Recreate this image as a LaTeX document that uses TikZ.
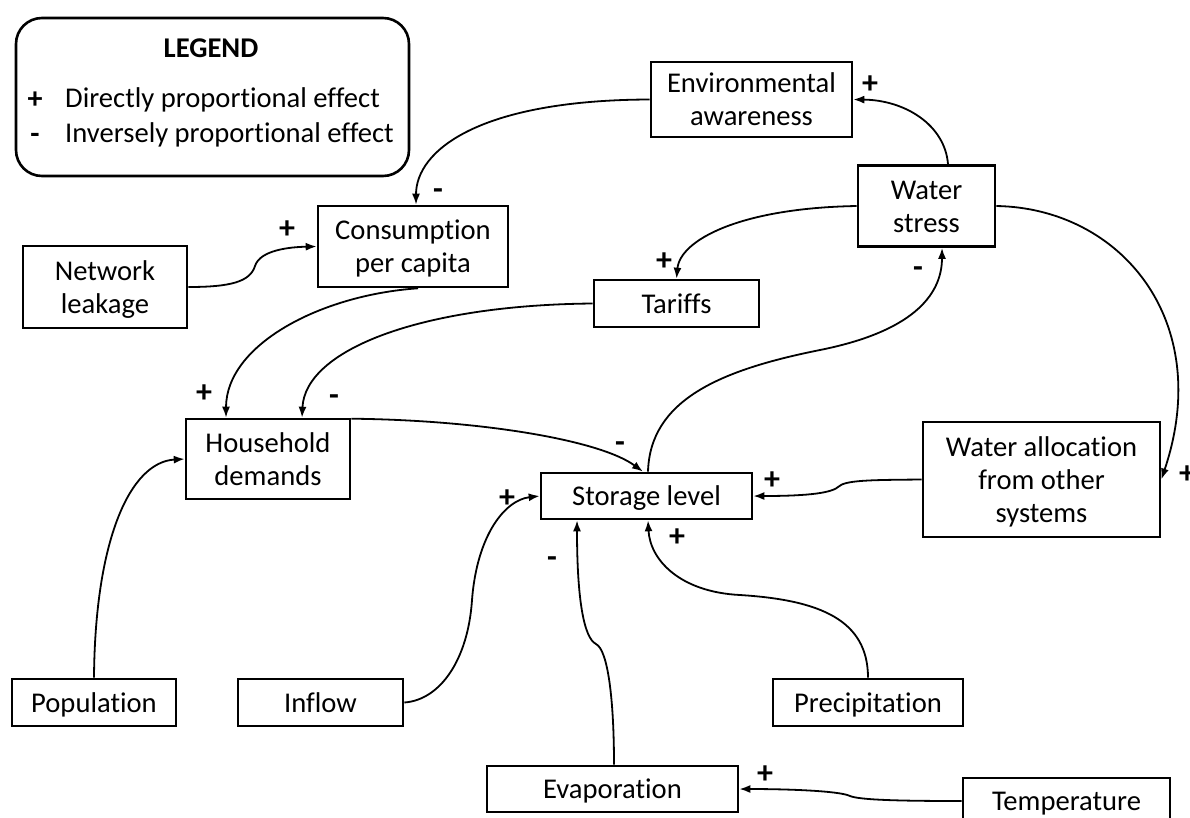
\documentclass[tikz,border=0pt]{standalone}
\usepackage{fontspec}
\setmainfont{Carlito}[Ligatures={NoCommon}]
\usetikzlibrary{arrows.meta}
\newcommand{\nodetext}[1]{\rule{0pt}{25pt}#1\rule[-6pt]{0pt}{0pt}}
\begin{document}
\begin{tikzpicture}[x=1pt,y=-1pt,
  box/.style={draw, line width=2.6pt, inner sep=0pt, align=center, font=\fontsize{28.6}{33}\selectfont},
  conn/.style={line width=1.8pt, -{Latex[length=11pt,width=8pt]}},
  sgn/.style={font=\fontsize{32}{33}\selectfont\bfseries, inner sep=0pt, anchor=base},
  legsgn/.style={font=\fontsize{30}{33}\selectfont\bfseries, inner sep=0pt, anchor=base},
  legtitle/.style={font=\fontsize{28.6}{33}\selectfont\bfseries, inner sep=0pt, anchor=base},
  legtext/.style={font=\fontsize{28.6}{33}\selectfont, inner sep=0pt, anchor=base west}]
\useasboundingbox (0,0) rectangle (1190,817);

% legend
\node[draw, line width=2.6pt, rounded corners=26pt, minimum width=393pt, minimum height=158pt, inner sep=0pt] (legend) at (212.5,97) {};
\node[legtitle] (legtitle) at (211,57) {LEGEND};
\node[legsgn] (legplus) at (35,108) {+};
\node[legtext] (legdirect) at (65,107) {Directly proportional effect};
\node[legsgn] (legminus) at (35,143) {-};
\node[legtext] (leginverse) at (65,142) {Inversely proportional effect};

% nodes
\node[box, minimum width=201pt, minimum height=75pt] (ea) at (751.5,99.5) {\nodetext{Environmental\\awareness}};
\node[box, minimum width=137pt, minimum height=81pt] (ws) at (926.5,206) {\nodetext{Water\\stress}};
\node[box, minimum width=165pt, minimum height=47pt] (tar) at (676.5,303.5) {\nodetext{Tariffs}};
\node[box, minimum width=190pt, minimum height=81pt] (cons) at (413,246.5) {\nodetext{Consumption\\per capita}};
\node[box, minimum width=164pt, minimum height=82pt] (nl) at (105,287) {\nodetext{Network\\leakage}};
\node[box, minimum width=164pt, minimum height=80pt] (hd) at (268,459) {\nodetext{Household\\demands}};
\node[box, minimum width=211pt, minimum height=46pt] (sl) at (646.5,496) {\nodetext{Storage level}};
\node[box, minimum width=237pt, minimum height=115pt] (wa) at (1041.5,479.5) {\nodetext{Water allocation\\from other\\systems}};
\node[box, minimum width=164pt, minimum height=47pt] (pop) at (94,702.5) {\nodetext{Population}};
\node[box, minimum width=165pt, minimum height=47pt] (inf) at (320.5,702.5) {\nodetext{Inflow}};
\node[box, minimum width=190pt, minimum height=47pt] (pre) at (868,702.5) {\nodetext{Precipitation}};
\node[box, minimum width=251pt, minimum height=46pt] (eva) at (612.5,789) {\nodetext{Evaporation}};
\node[box, minimum width=207pt, minimum height=46pt] (tem) at (1066.5,801) {\nodetext{Temperature}};

% connectors
\draw[conn] (ea.west) .. controls (480,100) and (416,150) .. ([xshift=3pt]cons.north);
\draw[conn] ([xshift=21.5pt]ws.north) .. controls (945,125) and (905,100) .. (ea.east);
\draw[conn] (ws.west) .. controls (740,208) and (680,240) .. (tar.north);
\draw[conn] (ws.east) .. controls (1120,208) and (1215,320) .. (wa.east);
\draw[conn] (nl.east) .. controls (230,287) and (250,282) .. (255,266) .. controls (260,250) and (290,247) .. (cons.west);
\draw[conn] ([xshift=5pt]cons.south) .. controls (320,295) and (226,345) .. ([xshift=-42pt]hd.north);
\draw[conn] (tar.west) .. controls (420,305) and (305,350) .. ([xshift=34pt]hd.north);
\draw[conn] ([yshift=-1pt]hd.north east) .. controls (480,420) and (600,440) .. ([xshift=-3.5pt]sl.north);
\draw[conn] ([xshift=1.5pt]sl.north) .. controls (650,400) and (720,370) .. (820,350) .. controls (920,330) and (942,290) .. ([xshift=15.5pt]ws.south);
\draw[conn] (wa.west) .. controls (870,480) and (845,480) .. (838,487) .. controls (830,494) and (800,496) .. (sl.east);
\draw[conn] (pop.north) .. controls (95,540) and (130,462) .. (hd.west);
\draw[conn] (inf.east) .. controls (440,700) and (468,660) .. (472,600) .. controls (477,535) and (505,500) .. (sl.west);
\draw[conn] ([xshift=1.5pt]eva.north) .. controls (614,700) and (608,650) .. (596,644) .. controls (584,638) and (577,600) .. ([xshift=-69.5pt]sl.south);
\draw[conn] (pre.north) .. controls (868,620) and (820,600) .. (740,595) .. controls (680,592) and (650,560) .. ([xshift=1.5pt]sl.south);
\draw[conn] (tem.west) .. controls (900,801) and (860,800) .. (850,796) .. controls (840,791) and (790,789) .. (eva.east);

% signs (anchor = baseline)
\node[sgn] (s1) at (438,199) {-};
\node[sgn] (s2) at (870,93) {+};
\node[sgn] (s3) at (664,270) {+};
\node[sgn] (s4) at (1187,483) {+};
\node[sgn] (s5) at (287,238) {+};
\node[sgn] (s6) at (204,402) {+};
\node[sgn] (s7) at (334,405) {-};
\node[sgn] (s8) at (620,452) {-};
\node[sgn] (s9) at (918,277) {-};
\node[sgn] (s10) at (772,489) {+};
\node[sgn] (s11) at (507,507) {+};
\node[sgn] (s12) at (552,567) {-};
\node[sgn] (s13) at (677,546) {+};
\node[sgn] (s14) at (765,783) {+};
\end{tikzpicture}
\end{document}
